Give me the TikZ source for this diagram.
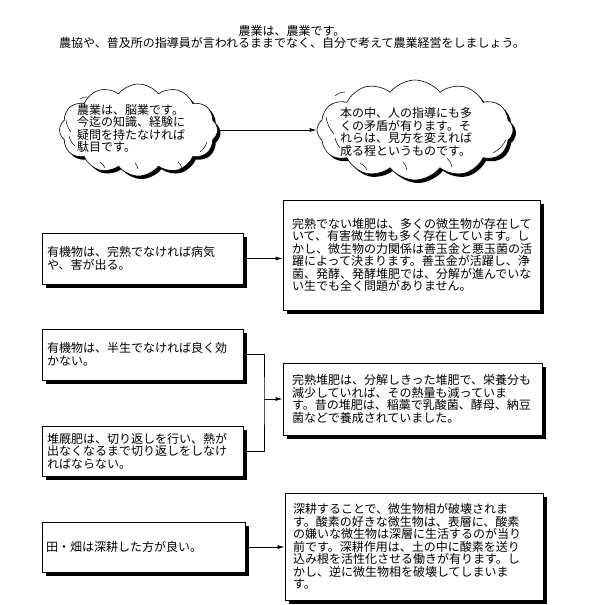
\documentclass[tikz,border=0pt]{standalone}
\usepackage{fontspec}
\setmainfont{Noto Sans CJK JP}
\usetikzlibrary{shapes.symbols,shadows,arrows.meta}
\begin{document}
\begin{tikzpicture}[x=1pt,y=-1pt,
  every node/.style={font=\fontsize{12}{12.5}\selectfont},
  shad/.style={drop shadow={shadow xshift=#1, shadow yshift=-#1, fill=black, opacity=1}},
  box/.style={draw, fill=white, line width=0.8pt, align=left, inner ysep=0pt, shad=4pt},
  cloudshape/.style={cloud, cloud puffs=12, cloud puff arc=105, cloud ignores aspect, draw, fill=white, line width=0.6pt, shad=3pt},
  texture/.style={line width=0.5pt},
  txt/.style={align=left, inner sep=0pt, anchor=west},
  conn/.style={line width=0.8pt},
  arr/.style={line width=0.8pt, -{Latex[length=7pt,width=4pt]}}
]
\useasboundingbox (0,0) rectangle (590,605);

\node[align=center, inner sep=0pt] (title) at (292,37) {農業は、農業です。\\農協や、普及所の指導員が言われるままでなく、自分で考えて農業経営をしましょう。};

\node[cloudshape, minimum width=158pt, minimum height=92pt] (c1) at (138.5,130) {};
% texture strokes of cloud 1
\draw[texture] (80,99) to[bend left=20] (88,97);
\draw[texture] (66,120) to[bend right=15] (71,132);
\draw[texture] (69,136) to[bend right=15] (75,146);
\draw[texture] (100,162) to[bend left=15] (105,168);
\draw[texture] (135,163) to[bend left=15] (138,169);
\draw[texture] (178,162) to[bend left=15] (182,168);
\draw[texture] (200,152) to[bend right=15] (207,142);
\node[txt] (t1) at (77,128.5) {農業は、脳業です。\\今迄の知識、経験に\\疑問を持たなければ\\駄目です。};

\node[cloudshape, minimum width=196pt, minimum height=100pt] (c2) at (415,130) {};
% texture strokes of cloud 2
\draw[texture] (335,96) to[bend left=20] (345,92);
\draw[texture] (326,117) to[bend right=15] (334,134);
\draw[texture] (335,138) to[bend right=10] (340,148);
\draw[texture] (360,163) to[bend left=15] (367,170);
\draw[texture] (403,162) to[bend left=15] (407,170);
\draw[texture] (447,158) to[bend left=15] (452,167);
\draw[texture] (493,153) to[bend right=15] (506,140);
\node[txt] (t2) at (340,132) {本の中、人の指導にも多\\くの矛盾が有ります。そ\\れらは、見方を変えれば\\成る程というものです。};
\draw[arr] (c1.east) -- (c1.east -| c2.west);

\node[box, text width=191pt, inner xsep=5pt, minimum height=51pt] (b1) at (142.5,258.5) {有機物は、完熟でなければ病気\\や、害が出る。};
\node[box, text width=239pt, inner xsep=9pt, minimum height=110pt] (b2) at (411.5,255) {完熟でない堆肥は、多くの微生物が存在して\\いて、有害微生物も多く存在しています。し\\かし、微生物の力関係は善玉金と悪玉菌の活\\躍によって決まります。善玉金が活躍し、浄\\菌、発酵、発酵堆肥では、分解が進んでいな\\い生でも全く問題がありません。};
\draw[arr] (b1.east) -- (b1.east -| b2.west);

\node[box, text width=191pt, inner xsep=5pt, minimum height=51pt] (b3) at (142.5,354.5) {有機物は、半生でなければ良く効\\かない。};
\node[box, text width=191pt, inner xsep=5pt, minimum height=50pt] (b4) at (142.5,451) {堆厩肥は、切り返しを行い、熱が\\出なくなるまで切り返しをしなけ\\ればならない。};
\node[box, text width=241pt, inner xsep=9pt, minimum height=72pt] (b5) at (412.5,399) {完熟堆肥は、分解しきった堆肥で、栄養分も\\減少していれば、その熱量も減っていま\\す。昔の堆肥は、稲藁で乳酸菌、酵母、納豆\\菌などで養成されていました。};
\coordinate (j) at (264,399);
\draw[conn] (b3.east) -| (j) |- (b4.east);
\draw[arr] (j) -- (b5.west);

\node[box, text width=195pt, inner xsep=4pt, minimum height=50pt] (b6) at (143.5,547) {田・畑は深耕した方が良い。};
\node[box, text width=242pt, inner xsep=8pt, minimum height=107pt] (b7) at (414,546.5) {深耕することで、微生物相が破壊されま\\す。酸素の好きな微生物は、表層に、酸素\\の嫌いな微生物は深層に生活するのが当り\\前です。深耕作用は、土の中に酸素を送り\\込み根を活性化させる働きが有ります。し\\かし、逆に微生物相を破壊してしまいま\\す。};
\draw[arr] (b6.east) -- (b6.east -| b7.west);
\end{tikzpicture}
\end{document}
